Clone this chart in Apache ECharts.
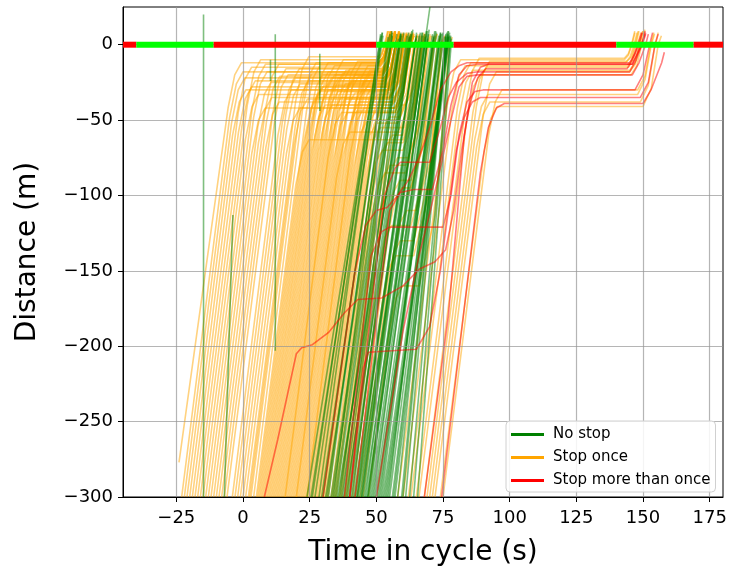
<!DOCTYPE html>
<html><head><meta charset="utf-8">
<script src="https://cdn.jsdelivr.net/npm/echarts@6/dist/echarts.min.js"></script>
<style>html,body{margin:0;padding:0;background:#fff}#chart{width:730px;height:573px}</style>
</head><body><div id="chart"></div>
<script>
// Axis ticks
const xTicks = [-25, 0, 25, 50, 75, 100, 125, 150, 175];
const yTicks = [-300, -250, -200, -150, -100, -50, 0];

// Signal phases along the stop line (time edges, state of each interval)
const signalEdges = [-45, -40, -11, 50, 79, 140, 169, 180];
const signalPhases = ['red', 'green', 'red', 'green', 'red', 'green', 'red'];

// Trajectories: flat lists of [time, distance, time, distance, ...]
const stopOnceTracks = [
[-24,-277,-5.6,-42,-3.1,-20,-0.6,-12,51,-12,52.7,-8,54.1,0,55.3,8],
[-22,-300,-4.3,-52,-1.8,-30,0.7,-22,52,-22,54.3,-15,56.2,0,57.4,7],
[-20,-300,-1.8,-45,0.7,-23,3.2,-15,51,-15,52.9,-10,54.5,0,55.7,9],
[-19,-300,-1.7,-58,0.8,-36,3.3,-28,53,-28,55.6,-20,57.7,0,58.9,6],
[-17,-300,1.6,-40,4.1,-18,6.6,-10,50.5,-10,52,-7,53.3,0,54.5,9],
[-16,-300,0.9,-63,3.4,-41,5.9,-33,54,-33,56.8,-23,59.1,0,60.3,7],
[-14,-300,4,-48,6.5,-26,9,-18,52,-18,54.1,-13,55.8,0,57,8],
[-12,-300,5.5,-55,8,-33,10.5,-25,53,-25,55.5,-18,57.5,0,58.7,6],
[-10,-300,8.4,-43,10.9,-21,13.4,-13,51,-13,52.8,-9,54.2,0,55.4,8],
[-8,-300,8.6,-68,11.1,-46,13.6,-38,56,-38,59,-27,61.5,0,62.7,7],
[-6,-300,11.9,-50,14.4,-28,16.9,-20,52,-20,54.2,-14,56,0,57.2,8],
[-4,-300,13.1,-60,15.6,-38,18.1,-30,54,-30,56.7,-21,58.9,0,60.1,7],
[-2,-300,16.1,-46,18.6,-24,21.1,-16,51,-16,53,-11,54.6,0,55.8,9],
[0,-300,16.3,-72,18.8,-50,21.3,-42,57,-42,60.2,-29,62.8,0,64,6],
[2,-300,19.6,-54,22.1,-32,24.6,-24,53,-24,55.4,-17,57.4,0,58.6,8],
[4,-300,22.4,-42,24.9,-20,27.4,-12,51,-12,52.7,-8,54.1,0,55.3,9],
[5,-300,19.8,-93,22.3,-71,24.8,-63,60,-63,63.9,-44,67.1,0,68.3,7],
[6,-300,22.8,-65,25.3,-43,27.8,-35,55,-35,57.9,-25,60.3,0,61.5,8],
[7,-300,24.9,-50,27.4,-28,29.9,-20,52,-20,54.2,-14,56,0,57.2,6],
[8,-300,25.4,-57,27.9,-35,30.4,-27,54,-27,56.5,-19,58.6,0,59.8,8],
[9,-300,27,-48,29.5,-26,32,-18,52,-18,54.1,-13,55.8,0,57,9],
[10,-300,27.1,-60,29.6,-38,32.1,-30,54,-30,56.7,-21,58.9,0,60.1,7],
[11,-300,29.3,-44,31.8,-22,34.3,-14,51,-14,52.8,-10,54.3,0,55.5,8],
[12,-300,28.4,-70,30.9,-48,33.4,-40,56,-40,59.1,-28,61.7,0,62.9,6],
[13,-300,30.7,-52,33.2,-30,35.7,-22,53,-22,55.3,-15,57.2,0,58.4,8],
[14,-300,32.6,-40,35.1,-18,37.6,-10,50.5,-10,52,-7,53.3,0,54.5,9],
[15,-300,31.8,-65,34.3,-43,36.8,-35,55,-35,57.9,-25,60.3,0,61.5,7],
[16,-300,33.4,-56,35.9,-34,38.4,-26,53,-26,55.5,-18,57.6,0,58.8,8],
[17,-300,35.1,-46,37.6,-24,40.1,-16,52,-16,54,-11,55.6,0,56.8,9],
[18,-300,34.1,-75,36.6,-53,39.1,-45,57,-45,60.3,-32,63,0,64.2,6],
[19,-300,36.9,-50,39.4,-28,41.9,-20,52,-20,54.2,-14,56,0,57.2,8],
[20,-300,37,-62,39.5,-40,42,-32,55,-32,57.8,-22,60.1,0,61.3,7],
[21,-300,39.4,-42,41.9,-20,44.4,-12,51,-12,52.7,-8,54.1,0,55.3,9],
[22,-300,38.6,-68,41.1,-46,43.6,-38,56,-38,59,-27,61.5,0,62.7,6],
[23,-300,40.6,-54,43.1,-32,45.6,-24,53,-24,55.4,-17,57.4,0,58.6,8],
[24,-300,41.3,-58,43.8,-36,46.3,-28,54,-28,56.6,-20,58.7,0,59.9,7],
[25,-300,43,-48,45.5,-26,48,-18,52,-18,54.1,-13,55.8,0,57,9],
[26,-300,41.7,-80,44.2,-58,46.7,-50,58,-50,61.5,-35,64.3,0,65.5,6],
[27,-300,43.9,-64,46.4,-42,48.9,-34,55,-34,57.9,-24,60.2,0,61.4,8],
[28,-300,45.7,-52,48.2,-30,50.7,-22,53,-22,55.3,-15,57.2,0,58.4,7],
[29,-300,45.3,-72,47.8,-50,50.3,-42,57,-42,60.2,-29,62.8,0,64,6],
[30,-300,46.8,-65,49.3,-43,51.8,-35,57,-35,59.9,-25,62.3,0,63.5,7],
[31,-300,46.4,-85,48.9,-63,51.4,-55,59,-55,62.6,-38,65.6,0,66.8,6],
[32,-300,49.1,-60,51.6,-38,54.1,-30,57,-30,59.7,-21,61.9,0,63.1,7],
[33,-300,47.3,-100,49.8,-78,52.3,-70,60,-70,64.1,-49,67.5,0,68.7,6],
[34,-300,49.9,-78,52.4,-56,54.9,-48,59,-48,62.4,-34,65.2,0,66.4,7],
[35,-300,48.2,-115,50.7,-93,53.2,-85,61,-85,65.5,-60,69.2,0,70.4,6],
[36,-300,51,-90,53.5,-68,56,-60,60,-60,63.8,-42,66.9,0,68.1,7],
[37,-300,49.1,-130,51.6,-108,54.1,-100,62,-100,66.9,-70,70.9,0,72.1,6],
[38,-300,54.4,-70,56.9,-48,59.4,-40,61,-40,64.1,-28,66.7,0,67.9,8],
[39,-300,52.9,-105,55.4,-83,57.9,-75,62,-75,66.2,-53,69.7,0,70.9,6],
[40,-300,50.7,-150,53.2,-128,55.7,-120,63,-120,68.4,-84,72.8,0,74,6],
[41,-300,53.9,-120,56.4,-98,58.9,-90,63,-90,67.7,-63,71.5,0,72.7,7],
[43,-300,52.3,-170,54.8,-148,57.3,-140,64,-140,69.8,-98,74.6,0,75.8,5],
[45,-300,56.4,-140,58.9,-118,61.4,-110,65,-110,70.2,-77,74.4,0,75.6,6],
[10.5,-300,28.2,-52,30.7,-30,33.2,-22,53,-22,55.3,-15,57.2,0,58.4,9],
[12.5,-300,29.9,-57,32.4,-35,34.9,-27,54,-27,56.5,-19,58.6,0,59.8,7],
[14.5,-300,32.4,-49,34.9,-27,37.4,-19,52,-19,54.1,-13,55.9,0,57.1,8],
[16.5,-300,33.2,-66,35.7,-44,38.2,-36,55,-36,58,-25,60.4,0,61.6,7],
[18.5,-300,36.1,-54,38.6,-32,41.1,-24,53,-24,55.4,-17,57.4,0,58.6,9],
[20.5,-300,38.3,-51,40.8,-29,43.3,-21,52,-21,54.3,-15,56.1,0,57.3,8],
[22.5,-300,39.6,-60,42.1,-38,44.6,-30,55,-30,57.7,-21,59.9,0,61.1,6],
[24.5,-300,42.6,-47,45.1,-25,47.6,-17,52,-17,54,-12,55.7,0,56.9,9],
[26.5,-300,43.9,-56,46.4,-34,48.9,-26,54,-26,56.5,-18,58.6,0,59.8,7],
[28.5,-300,45.4,-63,47.9,-41,50.4,-33,56,-33,58.8,-23,61.1,0,62.3,8],
[30.5,-300,46.6,-75,49.1,-53,51.6,-45,58,-45,61.3,-32,64,0,65.2,6],
[19.5,-300,38,-41,40.5,-19,43,-11,51,-11,52.7,-8,54,0,55.2,9],
[23.5,-300,41.8,-44,44.3,-22,46.8,-14,51.5,-14,53.3,-10,54.8,0,56,8],
[27.5,-300,44.8,-58,47.3,-36,49.8,-28,55,-28,57.6,-20,59.7,0,60.9,8],
[33.5,-300,51,-55,53.5,-33,56,-25,57.5,-25,60,-18,62,0,63.2,7],
[-1,-300,16.4,-56,18.9,-34,21.4,-26,53,-26,55.5,-18,57.6,0,58.8,6],
[3,-300,20.9,-49,23.4,-27,25.9,-19,52,-19,54.1,-13,55.9,0,57.1,9],
[1,-300,19.7,-38,22.2,-16,24.7,-8,50.5,-8,51.9,-6,53,0,54.2,9],
[-9,-300,8.8,-51,11.3,-29,13.8,-21,52,-21,54.3,-15,56.1,0,57.3,7],
[6.5,-300,23.6,-61,26.1,-39,28.6,-31,54,-31,56.8,-22,59,0,60.2,8],
[-23,-300,-5,-48,-2.5,-26,0,-18,52,-18,54.1,-13,55.8,0,57,8],
[-21,-300,-3.9,-60,-1.4,-38,1.1,-30,54,-30,56.7,-21,58.9,0,60.1,7],
[-18,-300,-0.4,-54,2.1,-32,4.6,-24,53,-24,55.4,-17,57.4,0,58.6,8],
[-15,-300,3.4,-43,5.9,-21,8.4,-13,51,-13,52.8,-9,54.2,0,55.4,9],
[-11,-300,5.8,-65,8.3,-43,10.8,-35,55,-35,57.9,-25,60.3,0,61.5,7],
[-7,-300,11.1,-46,13.6,-24,16.1,-16,52,-16,54,-11,55.6,0,56.8,8],
[-3,-300,14.7,-52,17.2,-30,19.7,-22,53,-22,55.3,-15,57.2,0,58.4,9],
[2.5,-300,19.2,-66,21.7,-44,24.2,-36,55,-36,58,-25,60.4,0,61.6,6],
[5.5,-300,23.8,-44,26.3,-22,28.8,-14,51,-14,52.8,-10,54.3,0,55.5,8],
[7.5,-300,24.8,-58,27.3,-36,29.8,-28,54,-28,56.6,-20,58.7,0,59.9,7],
[9.5,-300,25.9,-70,28.4,-48,30.9,-40,56,-40,59.1,-28,61.7,0,62.9,8],
[11.5,-300,29.4,-50,31.9,-28,34.4,-20,52,-20,54.2,-14,56,0,57.2,9],
[13.5,-300,30.6,-61,33.1,-39,35.6,-31,54,-31,56.8,-22,59,0,60.2,7],
[15.5,-300,33.6,-47,36.1,-25,38.6,-17,52,-17,54,-12,55.7,0,56.9,8],
[17.5,-300,35,-55,37.5,-33,40,-25,53,-25,55.5,-18,57.5,0,58.7,9],
[21.5,-300,37.6,-74,40.1,-52,42.6,-44,57,-44,60.2,-31,62.9,0,64.1,6],
[25.5,-300,43.1,-53,45.6,-31,48.1,-23,53,-23,55.4,-16,57.3,0,58.5,8],
[29.5,-300,45.1,-82,47.6,-60,50.1,-52,58,-52,61.5,-36,64.4,0,65.6,7],
[31.5,-300,48.1,-68,50.6,-46,53.1,-38,57,-38,60,-27,62.5,0,63.7,8],
[34.5,-300,49.1,-95,51.6,-73,54.1,-65,60,-65,64,-46,67.2,0,68.4,6],
[36.5,-300,50.1,-110,52.6,-88,55.1,-80,61,-80,65.4,-56,69,0,70.2,7],
[38.5,-300,53.9,-85,56.4,-63,58.9,-55,60.5,-55,64.1,-38,67.1,0,68.3,6],
[42,-300,54.5,-125,57,-103,59.5,-95,63,-95,67.8,-66,71.7,0,72.9,7],
[44,-300,54,-160,56.5,-138,59,-130,64,-130,69.6,-91,74.2,0,75.4,6],
[47,-300,54.9,-190,57.4,-168,59.9,-160,66,-160,72.2,-112,77.3,0,78.5,5],
[8.5,-300,26.9,-42,29.4,-20,31.9,-12,51,-12,52.7,-8,54.1,0,55.3,8],
[15.8,-300,31.9,-75,34.4,-53,36.9,-45,57,-45,60.3,-32,63,0,64.2,7],
[20,-300,35.1,-88,37.6,-66,40.1,-58,59,-58,62.7,-41,65.8,0,67,6],
[24,-300,40.3,-72,42.8,-50,45.3,-42,57,-42,60.2,-29,62.8,0,64,7],
[-13,-300,3.3,-72,5.8,-50,8.3,-42,57,-42,60.2,-29,62.8,0,64,8],
// second cycle queue
[58,-300,76.6,-40,79.1,-18,81.6,-10,143,-10,144.5,-7,145.8,0,147,8],
[60,-300,78.3,-44,80.8,-22,83.3,-14,144,-14,145.8,-10,147.3,0,148.5,9],
[62,-300,80.4,-42,82.9,-20,85.4,-12,143.5,-12,145.2,-8,146.6,0,147.8,8],
[63,-300,81.1,-47,83.6,-25,86.1,-17,145,-17,147,-12,148.7,0,149.9,9],
[65,-300,83.6,-39,86.1,-17,88.6,-9,143,-9,144.5,-6,145.7,0,146.9,9],
[66,-300,83.9,-50,86.4,-28,88.9,-20,145.5,-20,147.7,-14,149.5,0,150.7,10],
[68,-300,86.2,-45,88.7,-23,91.2,-15,144.5,-15,146.4,-10,148,0,149.2,8],
[70,-300,86.9,-63,89.4,-41,91.9,-33,148,-33,150.8,-23,153.1,0,154.3,7],
[71,-300,87.6,-68,90.1,-46,92.6,-38,149,-38,152,-27,154.5,0,155.7,8],
[72,-300,90,-48,92.5,-26,95,-18,145,-18,147.1,-13,148.8,0,150,9],
[74,-300,90.4,-71,92.9,-49,95.4,-41,150,-41,153.1,-29,155.7,0,156.9,6],
[75,-300,92.1,-60,94.6,-38,97.1,-30,148,-30,150.7,-21,152.9,0,154.1,8],
[69,-300,87.5,-41,90,-19,92.5,-11,144,-11,145.7,-8,147,0,148.2,9]
];

const noStopTracks = [
[27,-300,52.5,6],[28.5,-300,52.2,8],[30,-300,54.4,5],[31,-300,57.7,7],[32,-300,55.8,9],
[33,-300,58.3,4],[34,-300,56,8],[35,-300,59.5,6],[35.5,-300,63.7,10],[36.5,-300,59.2,7],
[37,-300,62.4,5],[38,-300,62.1,8],[38.5,-300,65.1,6],[39.5,-300,63.3,9],[40,-300,64.9,4],
[41,-300,62.9,7],[41.5,-300,67.2,8],[42.5,-300,66,6],[43,-300,69.2,9],[44,-300,68.4,5],
[44.5,-300,67.3,8],[45.5,-300,71.1,7],[46,-300,69.8,10],[47,-300,71.5,6],[47.5,-300,69.2,4],
[48.5,-300,72.6,8],[49,-300,71.9,9],[50,-300,75.4,5],[51,-300,74.6,7],[52,-300,74,8],
[53,-300,77.5,6],[54,-300,76.9,9],[55,-300,76.9,7],[56,-300,77,5],[57,-300,77.5,8],
[44.5,-300,70.1,25],[36,-300,61.5,6],[40.5,-300,65.1,8],[43.5,-300,68.1,7],[46.5,-300,72.3,9],
[48,-300,71.5,5],[50.5,-300,74.2,8],[52.5,-300,77,6],[29.5,-300,55.1,7],[33.5,-300,59.2,8],
[42,-300,67.5,6],[45,-300,68.8,9],[49.5,-300,74.1,7],[53.5,-300,77,5],[37.5,-300,60.3,8],
[24,-300,51.8,6],[25.5,-300,52.3,8],
[58,-300,76,6],[59.5,-300,76.1,7],[61,-300,76.4,8],[62.5,-300,77.8,5],[64,-300,77.9,6],
[65.5,-300,78.2,4],[56.5,-300,77.1,9],[34.5,-300,59.1,7],[39,-300,62.5,6],[42.8,-300,66.5,8],
[46.8,-300,69.5,7],[51.5,-300,73.4,6],[54.5,-300,75,8],[31.5,-300,56,6],[26,-300,51.6,7],
[60,-300,76.1,5],
[-14.8,-300,-14.8,20],[12.1,-203,12.1,7],[10.3,-24,10.3,-10],[28.8,-44,28.8,-6],[-7,-300,-3.8,-113]
];

const multiStopTracks = [
[8,-300,13,-262,20,-205,22,-201,26,-199,32,-191,38,-178,43,-169,52,-168,60,-160,66,-149,72,-144,76,-136,79,-110,82,-70,85,-40,88,-22,91,-16,144,-16,146,-10,148,0,149.5,8],
[40,-300,45,-215,47,-204,65,-202,70,-187,74,-150,77,-110,80,-70,83,-48,86,-38,89,-35,149,-35,152,-25,154.5,0,155.7,7],
[38,-300,48,-140,52,-124,55,-121,75,-121,78,-100,81,-60,84,-38,87,-31,90,-30,147,-30,150,-20,152.5,0,153.6,8],
[42,-300,55,-110,59,-98,64,-96,71,-96,75,-70,78,-40,81,-20,84,-14,88,-13,146,-13,148,-6,149.7,0,151,7],
[40,-300,53,-100,57,-82,59,-78,70,-78,74,-55,77,-35,80,-25,84,-19,88,-18,145,-18,147.5,-10,149.5,0,150.8,9],
[74.5,-300,85.6,-136,89,-85,92,-55,95,-42,98,-39,150,-39,153,-30,157,-12,158,-5],
[68,-300,77,-180,80,-120,83,-60,86,-25,89,-15,92,-13,146,-13,148,-5,150,3,151,8],
[50,-300,60,-190,66,-140,70,-112,74,-82,78,-50,81,-28,84,-21,88,-20,146,-20,148.5,-12,151,0,152,7],
[30,-300,42,-150,46,-120,50,-110,54,-108,58,-100,62,-90,66,-75,70,-55,74,-30,78,-18,81,-14,84,-12,145,-12,147,-6,148.5,0,149.7,8]
];

const classColors = { 'No stop': '#008000', 'Stop once': '#ffa500', 'Stop more than once': '#ff0000' };
const phaseColors = { red: '#ff0000', green: '#00ff00' };

function toPairs(flat) {
  const out = [];
  for (let i = 0; i < flat.length; i += 2) out.push([flat[i], flat[i + 1]]);
  return out;
}

const series = [];
function addTracks(tracks, name, opacity) {
  const color = classColors[name];
  tracks.forEach(tr => series.push({
    type: 'line', name: name, data: toPairs(tr), symbol: 'none', showSymbol: false,
    clip: true, silent: true, animation: false, z: 2,
    itemStyle: { color: color },
    lineStyle: { color: color, width: 1.6, opacity: opacity }
  }));
}
addTracks(stopOnceTracks, 'Stop once', 0.5);
addTracks(noStopTracks, 'No stop', 0.5);
addTracks(multiStopTracks, 'Stop more than once', 0.5);

signalPhases.forEach((ph, i) => series.push({
  type: 'line', name: 'signal', data: [[signalEdges[i], 0], [signalEdges[i + 1], 0]],
  symbol: 'none', clip: true, silent: true, animation: false, z: 6,
  lineStyle: { color: phaseColors[ph], width: 6, opacity: 1, cap: 'butt' }
}));

const fmt = v => (v < 0 ? '\u2212' + Math.abs(v) : String(v));
const FONT = 'DejaVu Sans';

const option = {
  animation: false,
  backgroundColor: '#ffffff',
  grid: { left: 123, right: 7, top: 7, bottom: 76, show: true, borderColor: '#000', borderWidth: 1, backgroundColor: 'transparent' },
  xAxis: {
    type: 'value', min: -45, max: 180, z: 4,
    name: 'Time in cycle (s)', nameLocation: 'middle', nameGap: 42,
    nameTextStyle: { fontSize: 28, color: '#000', fontFamily: FONT },
    axisLine: { onZero: false, lineStyle: { color: '#000', width: 1 } },
    axisTick: { customValues: xTicks, length: 5, lineStyle: { color: '#000' } },
    axisLabel: { customValues: xTicks, formatter: fmt, fontSize: 18, color: '#000', margin: 12, fontFamily: FONT },
    splitLine: { show: true, lineStyle: { color: 'rgba(150,150,150,0.7)', width: 1.2 } }
  },
  yAxis: {
    type: 'value', min: -300, max: 25, z: 4,
    name: 'Distance (m)', nameLocation: 'middle', nameGap: 81,
    nameTextStyle: { fontSize: 28, color: '#000', fontFamily: FONT },
    axisLine: { onZero: false, lineStyle: { color: '#000', width: 1 } },
    axisTick: { customValues: yTicks, length: 5, lineStyle: { color: '#000' } },
    axisLabel: { customValues: yTicks, formatter: fmt, fontSize: 18, color: '#000', margin: 10, fontFamily: FONT },
    splitLine: { show: true, lineStyle: { color: 'rgba(150,150,150,0.7)', width: 1.2 } }
  },
  legend: {
    orient: 'vertical', left: 506, top: 421, z: 10,
    icon: 'rect', itemWidth: 33, itemHeight: 3, itemGap: 8,
    padding: [6, 5, 4, 5],
    backgroundColor: 'rgba(255,255,255,0.85)', borderColor: '#d0d0d0', borderWidth: 1, borderRadius: 4,
    textStyle: { fontSize: 15, color: '#000', fontFamily: FONT, padding: [0, 0, 0, 4] },
    selectedMode: false,
    data: [
      { name: 'No stop', itemStyle: { color: '#008000', opacity: 1 } },
      { name: 'Stop once', itemStyle: { color: '#ffa500', opacity: 1 } },
      { name: 'Stop more than once', itemStyle: { color: '#ff0000', opacity: 1 } }
    ]
  },
  series: series
};

const chart = echarts.init(document.getElementById('chart'), null, { renderer: 'canvas' });
chart.setOption(option);
</script>
</body></html>
